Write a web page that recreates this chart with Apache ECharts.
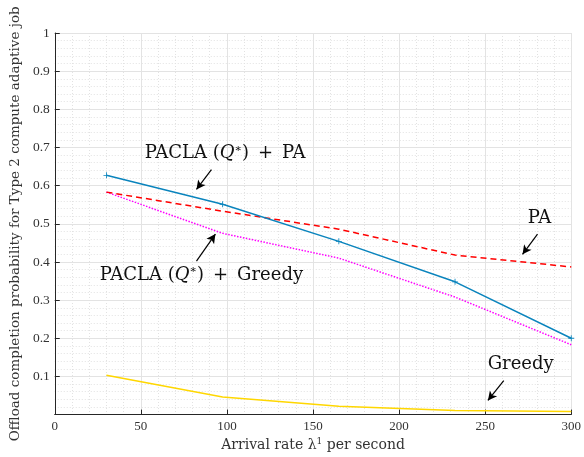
<!DOCTYPE html>
<html>
<head>
<meta charset="utf-8">
<script src="https://cdn.jsdelivr.net/npm/echarts@6/dist/echarts.min.js"></script>
<style>
  html, body { margin: 0; padding: 0; background: #fff; }
  #chart { width: 584px; height: 457px; }
</style>
</head>
<body>
<div id="chart"></div>
<script>
  // arrival rate (per second)
  const arrivalRate = [30, 97.5, 165, 232.5, 300]
  const pacPa = [0.627, 0.551, 0.454, 0.348, 0.200]
  const pa = [0.583, 0.533, 0.486, 0.418, 0.387]
  const pacGreedy = [0.583, 0.475, 0.410, 0.308, 0.183]
  const greedy = [0.103, 0.046, 0.022, 0.011, 0.008]

  const xTicks = [0, 50, 100, 150, 200, 250, 300]
  const yTicks = [0.1, 0.2, 0.3, 0.4, 0.5, 0.6, 0.7, 0.8, 0.9, 1]

  // annotation text positions and arrows, in data units
  const notes = [
    { text: '{t|PACLA (}{i|Q}{s|∗}{t|)\u2002+\u2002PA}', at: [99, 0.684], from: [91, 0.642], to: [82.3, 0.590] },
    { text: '{t|PA}', at: [281.5, 0.514], from: [280.4, 0.473], to: [271.7, 0.420] },
    { text: '{t|PACLA (}{i|Q}{s|∗}{t|)\u2002+\u2002Greedy}', at: [85.2, 0.366], from: [82.3, 0.402], to: [93.3, 0.473] },
    { text: '{t|Greedy}', at: [270.6, 0.131], from: [260.8, 0.089], to: [251.6, 0.037] }
  ]

  const font = 'Liberation Serif'
  const wide = 'DejaVu Serif'
  const chart = echarts.init(document.getElementById('chart'))

  function pairs(ys) {
    return arrivalRate.map((x, i) => [x, ys[i]])
  }

  function lineSeries(name, data, color, type, width, extra) {
    return Object.assign({
      name,
      type: 'line',
      data: pairs(data),
      showSymbol: false,
      symbol: 'none',
      animation: false,
      lineStyle: { color, width, type },
      itemStyle: { color }
    }, extra || {})
  }

  const richText = {
    t: { fontFamily: wide, fontSize: 18, color: '#111' },
    i: { fontFamily: wide, fontSize: 18, fontStyle: 'italic', color: '#111' },
    s: { fontFamily: wide, fontSize: 11, color: '#111', padding: [0, 0, 9, 0] }
  }

  chart.setOption({
    backgroundColor: '#fff',
    animation: false,
    grid: { left: 52, right: 11, top: 33, bottom: 41 },
    xAxis: {
      type: 'value',
      min: 0,
      max: 300,
      interval: 50,
      name: 'Arrival rate λ{s|1} per second',
      nameLocation: 'middle',
      nameGap: 19,
      nameTextStyle: {
        fontFamily: wide, fontSize: 14, color: '#333',
        rich: { s: { fontFamily: wide, fontSize: 9, color: '#333', padding: [0, 0, 6, 0] } }
      },
      axisLine: { show: true, lineStyle: { color: '#262626', width: 1 } },
      axisTick: { show: true, inside: true, length: 5, lineStyle: { color: '#262626' } },
      axisLabel: { fontFamily: font, fontSize: 13, color: '#333', margin: 5 },
      splitLine: { show: true, lineStyle: { color: '#e3e3e3', width: 1 } },
      minorTick: { show: true, splitNumber: 5, length: 0 },
      minorSplitLine: { show: true, lineStyle: { color: '#e2e2e2', type: [1, 2], width: 1 } }
    },
    yAxis: {
      type: 'value',
      min: 0,
      max: 1,
      interval: 0.1,
      name: 'Offload completion probability for Type 2 compute adaptive job',
      nameLocation: 'middle',
      nameGap: 31,
      nameTextStyle: { fontFamily: wide, fontSize: 13.5, color: '#333' },
      axisLine: { show: true, lineStyle: { color: '#262626', width: 1 } },
      axisTick: { show: true, inside: true, length: 5, lineStyle: { color: '#262626' } },
      axisLabel: {
        fontFamily: font, fontSize: 13.5, color: '#333', margin: 5,
        formatter: v => (yTicks.indexOf(+v.toFixed(1)) >= 0 ? (v === 1 ? '1' : v.toFixed(1)) : '')
      },
      splitLine: { show: true, lineStyle: { color: '#e3e3e3', width: 1 } },
      minorTick: { show: true, splitNumber: 5, length: 0 },
      minorSplitLine: { show: true, lineStyle: { color: '#e2e2e2', type: [1, 2], width: 1 } }
    },
    series: [
      lineSeries('Greedy', greedy, '#ffd700', 'solid', 1.5),
      lineSeries('PACLA + Greedy', pacGreedy, '#ff00ff', [1.5, 1.5], 1.5),
      lineSeries('PA', pa, '#ff0000', [6, 4], 1.5),
      lineSeries('PACLA + PA', pacPa, '#0a84bd', 'solid', 1.5, {
        showSymbol: true,
        symbol: 'path://M-1,-0.14H1V0.14H-1Z M-0.14,-1H0.14V1H-0.14Z',
        symbolSize: 6
      }),
      {
        type: 'line',
        data: [],
        silent: true,
        markLine: {
          silent: true,
          symbol: ['none', 'arrow'],
          symbolSize: [7, 9],
          label: { show: false },
          lineStyle: { color: '#000', width: 1.2, type: 'solid' },
          itemStyle: { color: '#000' },
          data: notes.map(n => [{ coord: n.from }, { coord: n.to }])
        },
        markPoint: {
          silent: true,
          symbolSize: 0,
          label: {
            show: true,
            position: 'inside',
            formatter: p => p.data.text,
            rich: richText
          },
          data: notes.map(n => ({ coord: n.at, text: n.text }))
        }
      }
    ]
  })
</script>
</body>
</html>
